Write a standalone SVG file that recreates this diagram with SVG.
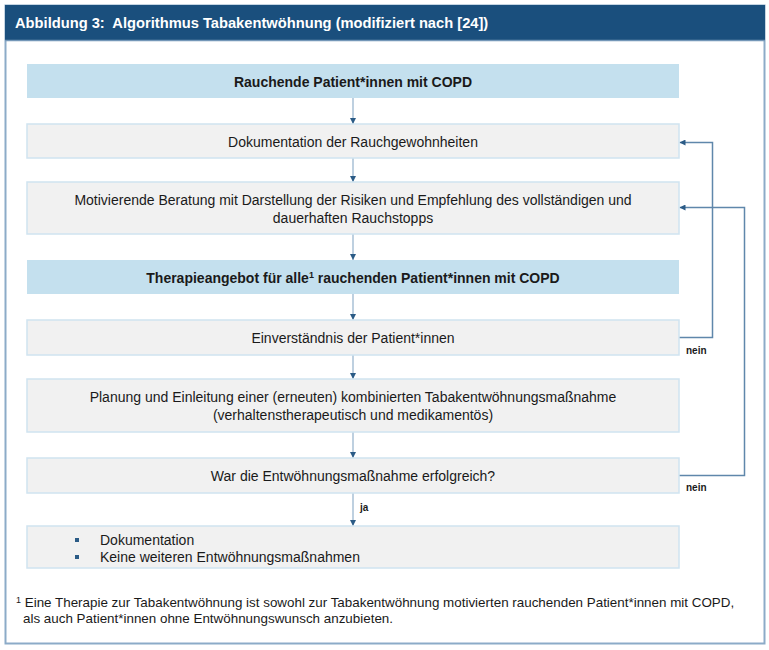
<svg xmlns="http://www.w3.org/2000/svg" width="769" height="650" viewBox="0 0 769 650">
  <style>
    .frame { fill: #ffffff; stroke: #8cabc8; stroke-width: 2; }
    .hdr { fill: #1a4f7d; }
    .hdr-line { stroke: #7497b8; stroke-width: 1.5; }
    .title { font-family: "Liberation Sans", Arial, sans-serif; font-size: 14.7px; font-weight: bold; fill: #ffffff; }
    .box-blue { fill: #c4e0ee; }
    .box-grey { fill: #f1f1f1; stroke: #cfe3f0; stroke-width: 1.5; }
    .t { font-family: "Liberation Sans", Arial, sans-serif; font-size: 14px; fill: #1a1a1a; text-anchor: middle; }
    .tb { font-family: "Liberation Sans", Arial, sans-serif; font-size: 14px; font-weight: bold; fill: #1a1a1a; text-anchor: middle; }
    .tl { font-family: "Liberation Sans", Arial, sans-serif; font-size: 14px; fill: #1a1a1a; }
    .small { font-family: "Liberation Sans", Arial, sans-serif; font-size: 10px; font-weight: bold; fill: #1a1a1a; }
    .fn { font-family: "Liberation Sans", Arial, sans-serif; font-size: 13.4px; fill: #1a1a1a; }
    .flow { stroke: #a9c1d6; stroke-width: 1.5; fill: none; }
    .back { stroke: #5f87ab; stroke-width: 1.5; fill: none; }
    .bullet { fill: #2b5b86; }
  </style>
  <defs>
    <marker id="ah" viewBox="0 0 10 10" refX="10" refY="5" markerWidth="6" markerHeight="6" markerUnits="userSpaceOnUse" orient="auto">
      <path d="M0,0 L10,5 L0,10 z" fill="#2b5b86"/>
    </marker>
  </defs>

  <!-- outer frame and heading bar -->
  <rect class="frame" x="5.5" y="5.5" width="759" height="638"/>
  <rect class="hdr" x="5" y="5" width="760" height="35"/>
  <line class="hdr-line" x1="5" y1="40.5" x2="765" y2="40.5"/>
  <text class="title" x="15" y="28">Abbildung 3:&#160; Algorithmus Tabakentwöhnung (modifiziert nach [24])</text>

  <!-- connectors -->
  <g id="connectors">
    <line class="flow" x1="353" y1="98" x2="353" y2="124" marker-end="url(#ah)"/>
    <line class="flow" x1="353" y1="158" x2="353" y2="182" marker-end="url(#ah)"/>
    <line class="flow" x1="353" y1="234" x2="353" y2="260" marker-end="url(#ah)"/>
    <line class="flow" x1="353" y1="294" x2="353" y2="320" marker-end="url(#ah)"/>
    <line class="flow" x1="353" y1="355" x2="353" y2="379" marker-end="url(#ah)"/>
    <line class="flow" x1="353" y1="432" x2="353" y2="458" marker-end="url(#ah)"/>
    <line class="flow" x1="353" y1="493" x2="353" y2="526" marker-end="url(#ah)"/>
    <polyline class="back" points="679,337.5 712.5,337.5 712.5,142.5 679.5,142.5" marker-end="url(#ah)"/>
    <polyline class="back" points="679,475.5 744.5,475.5 744.5,207.5 679.5,207.5" marker-end="url(#ah)"/>
    <text class="small" x="686" y="354">nein</text>
    <text class="small" x="686" y="491">nein</text>
    <text class="small" x="360" y="511">ja</text>
  </g>

  <g id="n1">
    <rect class="box-blue" x="27" y="64" width="652" height="34"/>
    <text class="tb" x="353" y="87">Rauchende Patient*innen mit COPD</text>
  </g>
  <g id="n2">
    <rect class="box-grey" x="27" y="124" width="652" height="34"/>
    <text class="t" x="353" y="147">Dokumentation der Rauchgewohnheiten</text>
  </g>
  <g id="n3">
    <rect class="box-grey" x="27" y="182" width="652" height="52"/>
    <text class="t" x="353" y="205">Motivierende Beratung mit Darstellung der Risiken und Empfehlung des vollständigen und</text>
    <text class="t" x="353" y="223">dauerhaften Rauchstopps</text>
  </g>
  <g id="n4">
    <rect class="box-blue" x="27" y="260" width="652" height="34"/>
    <text class="tb" x="353" y="283">Therapieangebot für alle<tspan font-size="9" dy="-5">1</tspan><tspan dy="5"> rauchenden Patient*innen mit COPD</tspan></text>
  </g>
  <g id="n5">
    <rect class="box-grey" x="27" y="320" width="652" height="35"/>
    <text class="t" x="353" y="343">Einverständnis der Patient*innen</text>
  </g>
  <g id="n6">
    <rect class="box-grey" x="27" y="379" width="652" height="53"/>
    <text class="t" x="353" y="402">Planung und Einleitung einer (erneuten) kombinierten Tabakentwöhnungsmaßnahme</text>
    <text class="t" x="353" y="420">(verhaltenstherapeutisch und medikamentös)</text>
  </g>
  <g id="n7">
    <rect class="box-grey" x="27" y="458" width="652" height="35"/>
    <text class="t" x="353" y="481">War die Entwöhnungsmaßnahme erfolgreich?</text>
  </g>
  <g id="n8">
    <rect class="box-grey" x="27" y="526" width="652" height="42"/>
    <rect class="bullet" x="75" y="538" width="4" height="4"/>
    <rect class="bullet" x="75" y="555" width="4" height="4"/>
    <text class="tl" x="100" y="545">Dokumentation</text>
    <text class="tl" x="100" y="562">Keine weiteren Entwöhnungsmaßnahmen</text>
  </g>

  <!-- footnote -->
  <text class="fn" x="16" y="607"><tspan font-size="9" dy="-4">1</tspan><tspan dy="4"> Eine Therapie zur Tabakentwöhnung ist sowohl zur Tabakentwöhnung motivierten rauchenden Patient*innen mit COPD,</tspan></text>
  <text class="fn" x="23" y="623">als auch Patient*innen ohne Entwöhnungswunsch anzubieten.</text>
</svg>
